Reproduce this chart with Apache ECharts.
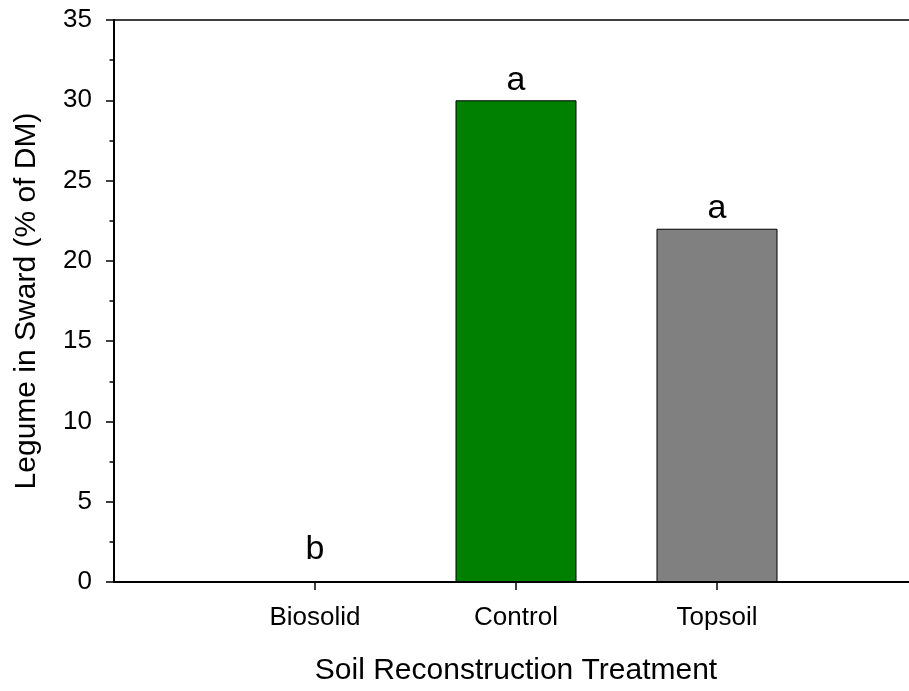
<!DOCTYPE html>
<html>
<head>
<meta charset="utf-8">
<script src="https://cdn.jsdelivr.net/npm/echarts@6/dist/echarts.min.js"></script>
<style>
  html, body { margin: 0; padding: 0; background: #fff; overflow: hidden; }
  /* the plot frame runs slightly past the right edge of the view */
  #chart { width: 940px; height: 691px; }
</style>
</head>
<body>
<div id="chart"></div>
<script>
// Legume share of sward dry matter by soil reconstruction treatment
const categories = ['Biosolid', 'Control', 'Topsoil'];
const legumePct = [0, 30, 22];
const groupLetters = ['b', 'a', 'a'];
const barColors = ['#808080', '#008000', '#808080'];
const yTicks = [0, 5, 10, 15, 20, 25, 30, 35];

// padded category list: empty slots at both ends give the wide margins
const axisCats = [''].concat(categories, ['']);

const FONT = 'Liberation Sans, Arial, Helvetica, sans-serif';

const chart = echarts.init(document.getElementById('chart'), null, { renderer: 'canvas' });

chart.setOption({
  animation: false,
  backgroundColor: '#ffffff',
  grid: {
    left: 114,
    top: 20,
    width: 804,
    height: 566,
    show: true,
    borderColor: '#000',
    borderWidth: 1.5,
    containLabel: false
  },
  xAxis: {
    type: 'category',
    data: axisCats,
    boundaryGap: false,
    name: 'Soil Reconstruction Treatment',
    nameLocation: 'middle',
    nameGap: 74,
    nameTextStyle: { color: '#000', fontSize: 30, fontFamily: FONT },
    axisLine: { show: true, lineStyle: { color: '#000', width: 2 } },
    axisTick: {
      show: true,
      length: 8,
      interval: function (i) { return i > 0 && i < axisCats.length - 1; },
      lineStyle: { color: '#000', width: 1.5 }
    },
    axisLabel: {
      color: '#000', fontSize: 26, fontFamily: FONT, margin: 23,
      interval: 0
    },
    splitLine: { show: false }
  },
  yAxis: {
    type: 'value',
    min: yTicks[0],
    max: yTicks[yTicks.length - 1],
    interval: 5,
    name: 'Legume in Sward (% of DM)',
    nameLocation: 'middle',
    nameGap: 72,
    nameTextStyle: { color: '#000', fontSize: 30, fontFamily: FONT },
    axisLine: { show: true, lineStyle: { color: '#000', width: 2 } },
    axisTick: { show: true, length: 8, lineStyle: { color: '#000', width: 1.5 } },
    minorTick: { show: true, splitNumber: 2, length: 4.5, lineStyle: { color: '#000', width: 1.5 } },
    axisLabel: { color: '#000', fontSize: 26, fontFamily: FONT, margin: 22 },
    splitLine: { show: false }
  },
  series: [{
    type: 'bar',
    barWidth: 121,
    data: legumePct.map(function (v, i) {
      return {
        value: [categories[i], v],
        itemStyle: { color: barColors[i], borderColor: '#000', borderWidth: 1 },
        label: { distance: v === 0 ? 15 : 3 }
      };
    }),
    label: {
      show: true,
      position: 'top',
      color: '#000',
      fontSize: 34,
      fontFamily: FONT,
      formatter: function (p) { return groupLetters[p.dataIndex]; }
    }
  }]
});
</script>
</body>
</html>
